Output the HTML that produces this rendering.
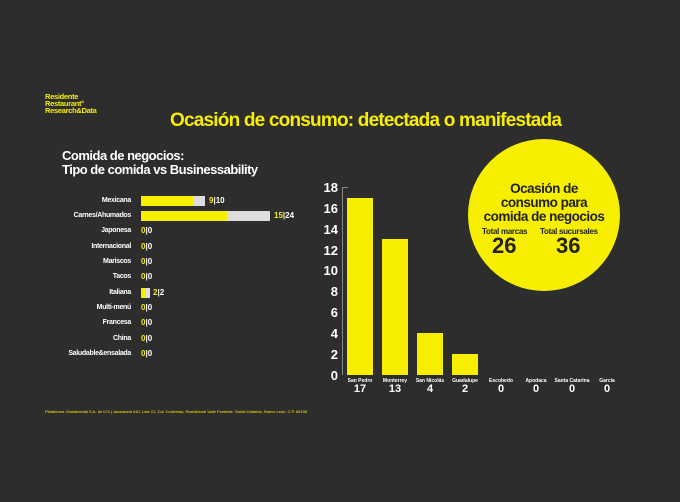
<!DOCTYPE html><html><head><meta charset="utf-8"><style>
body{margin:0;width:680px;height:502px;background:#2d2d2d;font-family:"Liberation Sans",sans-serif;position:relative;overflow:hidden;color:#fff}
.a{position:absolute;white-space:nowrap}
.y{color:#f7ee00}
.lab{position:absolute;right:549px;font-size:7px;font-weight:bold;letter-spacing:-0.3px;text-align:right}
.val{position:absolute;font-size:8px;font-weight:bold}
.tk{position:absolute;right:342px;font-size:13px;font-weight:bold;text-align:right}
.bar{position:absolute;background:#f7ee00;bottom:127px;width:26px}
.xl{position:absolute;width:40px;text-align:center;font-size:5px;font-weight:bold;top:378px}
.xv{position:absolute;width:40px;text-align:center;font-size:11px;font-weight:bold;top:383px}
</style></head><body>
<div class="a y" style="left:45px;top:93px;font-size:7.5px;font-weight:bold;line-height:7px;letter-spacing:-0.3px">Residente<br>Restaurant°<br>Research&amp;Data</div>
<div class="a y" style="left:170px;top:110px;font-size:19px;font-weight:bold;letter-spacing:-0.8px">Ocasión de consumo: detectada o manifestada</div>
<div class="a" style="left:62px;top:149px;font-size:13px;font-weight:bold;line-height:14px;letter-spacing:-0.5px">Comida de negocios:<br>Tipo de comida vs Businessability</div>

<div style="position:absolute;left:141px;top:196px;width:64px;height:10px;background:#ddd"></div>
<div style="position:absolute;left:141px;top:196px;width:52px;height:10px;background:#f7ee00"></div>
<div style="position:absolute;left:141px;top:211px;width:129px;height:10px;background:#ddd"></div>
<div style="position:absolute;left:141px;top:211px;width:86px;height:10px;background:#f7ee00"></div>
<div style="position:absolute;left:141px;top:288px;width:9px;height:10px;background:#ddd"></div>
<div style="position:absolute;left:141px;top:288px;width:5px;height:10px;background:#f7ee00"></div>

<div class="lab" style="top:197px">Mexicana</div><div class="val" style="left:209px;top:196px"><span class="y">9</span>|10</div>
<div class="lab" style="top:212px">Carnes/Ahumados</div><div class="val" style="left:274px;top:211px"><span class="y">15</span>|24</div>
<div class="lab" style="top:227px">Japonesa</div><div class="val" style="left:141px;top:226px"><span class="y">0</span>|0</div>
<div class="lab" style="top:243px">Internacional</div><div class="val" style="left:141px;top:242px"><span class="y">0</span>|0</div>
<div class="lab" style="top:258px">Mariscos</div><div class="val" style="left:141px;top:257px"><span class="y">0</span>|0</div>
<div class="lab" style="top:273px">Tacos</div><div class="val" style="left:141px;top:272px"><span class="y">0</span>|0</div>
<div class="lab" style="top:289px">Italiana</div><div class="val" style="left:153px;top:288px"><span class="y">2</span>|2</div>
<div class="lab" style="top:304px">Multi-menú</div><div class="val" style="left:141px;top:303px"><span class="y">0</span>|0</div>
<div class="lab" style="top:319px">Francesa</div><div class="val" style="left:141px;top:318px"><span class="y">0</span>|0</div>
<div class="lab" style="top:335px">China</div><div class="val" style="left:141px;top:334px"><span class="y">0</span>|0</div>
<div class="lab" style="top:350px">Saludable&amp;ensalada</div><div class="val" style="left:141px;top:349px"><span class="y">0</span>|0</div>

<div style="position:absolute;left:342px;top:187px;width:1px;height:188px;background:#888"></div>
<div style="position:absolute;left:342px;top:187px;width:6px;height:1px;background:#888"></div>
<div class="tk" style="top:180px">18</div><div class="tk" style="top:201px">16</div><div class="tk" style="top:222px">14</div><div class="tk" style="top:243px">12</div><div class="tk" style="top:263px">10</div><div class="tk" style="top:284px">8</div><div class="tk" style="top:305px">6</div><div class="tk" style="top:326px">4</div><div class="tk" style="top:347px">2</div><div class="tk" style="top:368px">0</div>

<div class="bar" style="left:347px;height:177px"></div>
<div class="bar" style="left:382px;height:136px"></div>
<div class="bar" style="left:417px;height:42px"></div>
<div class="bar" style="left:452px;height:21px"></div>

<div class="xl" style="left:340px">San Pedro</div><div class="xv" style="left:340px">17</div>
<div class="xl" style="left:375px">Monterrey</div><div class="xv" style="left:375px">13</div>
<div class="xl" style="left:410px">San Nicolás</div><div class="xv" style="left:410px">4</div>
<div class="xl" style="left:445px">Guadalupe</div><div class="xv" style="left:445px">2</div>
<div class="xl" style="left:481px">Escobedo</div><div class="xv" style="left:481px">0</div>
<div class="xl" style="left:516px">Apodaca</div><div class="xv" style="left:516px">0</div>
<div class="xl" style="left:552px">Santa Catarina</div><div class="xv" style="left:552px">0</div>
<div class="xl" style="left:587px">García</div><div class="xv" style="left:587px">0</div>

<div style="position:absolute;left:468px;top:139px;width:152px;height:152px;border-radius:50%;background:#f7ee00"></div>
<div class="a" style="left:468px;width:152px;top:182px;text-align:center;color:#222;font-size:13.5px;font-weight:bold;line-height:14px;letter-spacing:-0.5px">Ocasión de<br>consumo para<br>comida de negocios</div>
<div class="a" style="left:482px;top:227px;color:#222;font-size:8px;font-weight:bold;letter-spacing:-0.3px">Total marcas</div>
<div class="a" style="left:540px;top:227px;color:#222;font-size:8px;font-weight:bold;letter-spacing:-0.3px">Total sucursales</div>
<div class="a" style="left:492px;top:233px;color:#222;font-size:22px;font-weight:bold">26</div>
<div class="a" style="left:556px;top:233px;color:#222;font-size:22px;font-weight:bold">36</div>

<div class="a y" style="left:45px;top:409px;font-size:4px">Plataforma Globalmedia S.A. de ICX | Jacaranda #10, Lote 21, Col. Contreras, Residencial Valle Poniente, Santa Catarina, Nuevo León. C.P. 66196</div>
</body></html>
